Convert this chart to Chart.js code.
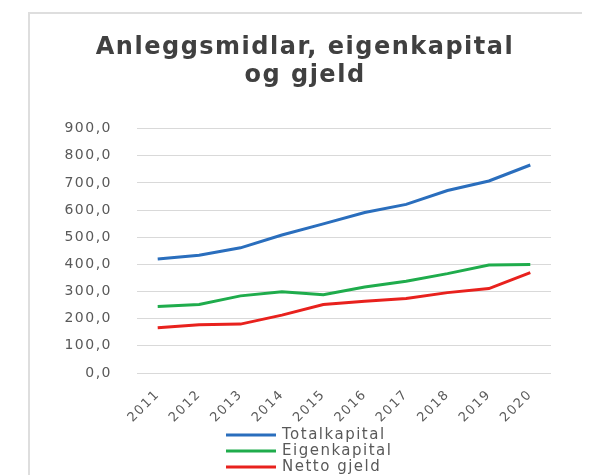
<!DOCTYPE html>
<html>
<head>
<meta charset="utf-8">
<script src="https://cdn.jsdelivr.net/npm/chart.js@4"></script>
<style>
  body { margin: 0; background: #fff; }
  #frame {
    position: absolute; left: 28px; top: 12px; width: 552px; height: 463px;
    border-top: 2px solid #dedede; border-left: 2px solid #dedede;
  }
</style>
</head>
<body>
<div id="frame"><canvas id="chart"></canvas></div>
<script>
const years = ['2011', '2012', '2013', '2014', '2015', '2016', '2017', '2018', '2019', '2020'];
const totalkapital = [420, 434, 461, 508, 549, 591, 621, 672, 707, 766];
const eigenkapital = [245, 252, 284, 299, 288, 317, 338, 366, 398, 400];
const nettoGjeld = [167, 178, 180, 213, 252, 264, 274, 296, 311, 370];

const textColor = '#595959';

// wider letter spacing for all text, like the stretched original
const spacing = {
    id: 'spacing',
    beforeDraw(chart) {
        chart.ctx.letterSpacing = '1.5px';
    }
};

// legend drawn as a vertical list under the x axis
const stackedLegend = {
    id: 'stackedLegend',
    afterDraw(chart) {
        const ctx = chart.ctx;
        const x0 = 196;
        let y = chart.scales.x.bottom + 2;
        ctx.save();
        ctx.font = '15px "DejaVu Sans"';
        ctx.letterSpacing = '1.5px';
        ctx.textBaseline = 'middle';
        chart.data.datasets.forEach(ds => {
            ctx.strokeStyle = ds.borderColor;
            ctx.lineWidth = 3;
            ctx.beginPath();
            ctx.moveTo(x0, y);
            ctx.lineTo(x0 + 50, y);
            ctx.stroke();
            ctx.fillStyle = textColor;
            ctx.fillText(ds.label, x0 + 56, y);
            y += 16;
        });
        ctx.restore();
    }
};

const ctx = document.getElementById('chart').getContext('2d');
const chart = new Chart(ctx, {
    type: 'line',
    data: {
        labels: years,
        datasets: [
            { label: 'Totalkapital', data: totalkapital, borderColor: '#2a6ebd' },
            { label: 'Eigenkapital', data: eigenkapital, borderColor: '#1fac4c' },
            { label: 'Netto gjeld', data: nettoGjeld, borderColor: '#e8211d' }
        ]
    },
    options: {
        responsive: true,
        maintainAspectRatio: false,
        animation: false,
        elements: {
            line: { borderWidth: 3, tension: 0 },
            point: { radius: 0 }
        },
        layout: { padding: { left: 29, right: 31, top: 0, bottom: 44 } },
        plugins: {
            legend: { display: false },
            tooltip: { enabled: false },
            title: {
                display: true,
                text: ['Anleggsmidlar, eigenkapital', 'og gjeld'],
                color: '#404040',
                font: { family: '"DejaVu Sans"', size: 24, weight: 'bold', lineHeight: 1.2 },
                padding: { top: 19, bottom: 38 }
            }
        },
        scales: {
            x: {
                offset: true,
                grid: { display: false },
                border: { display: false },
                ticks: {
                    color: textColor,
                    font: { family: '"DejaVu Sans"', size: 13 },
                    minRotation: 45,
                    maxRotation: 45,
                    padding: 6
                },
                afterFit(scale) { scale.height = 60; }
            },
            y: {
                min: 0,
                max: 900,
                grid: { color: '#d9d9d9', drawTicks: false },
                border: { display: false },
                ticks: {
                    stepSize: 100,
                    color: textColor,
                    padding: 25,
                    font: { family: '"DejaVu Sans"', size: 14 },
                    callback: v => v.toFixed(1).replace('.', ',')
                },
                afterFit(scale) { scale.width = 78; }
            }
        }
    },
    plugins: [spacing, stackedLegend]
});
</script>
</body>
</html>
